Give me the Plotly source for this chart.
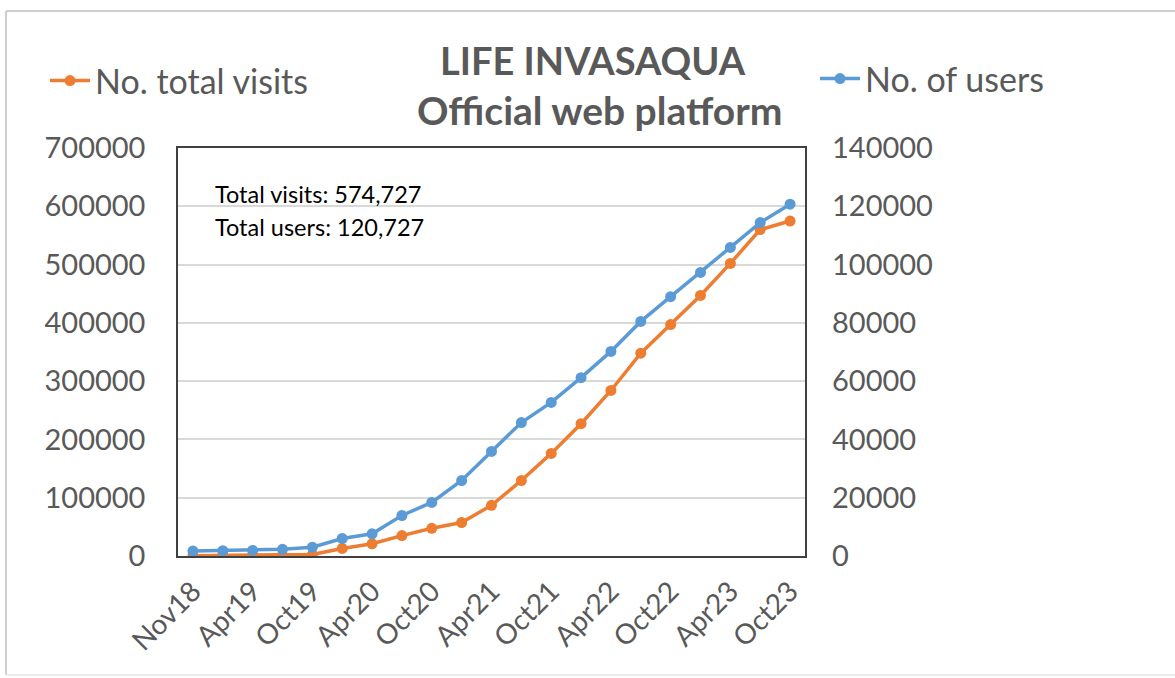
import plotly.graph_objects as go

categories = ["Nov18", "Jan19", "Apr19", "Jul19", "Oct19", "Jan20", "Apr20", "Jul20",
              "Oct20", "Jan21", "Apr21", "Jul21", "Oct21", "Jan22", "Apr22", "Jul22",
              "Oct22", "Jan23", "Apr23", "Jul23", "Oct23"]
tick_labels = ["Nov18", "Apr19", "Oct19", "Apr20", "Oct20", "Apr21",
               "Oct21", "Apr22", "Oct22", "Apr23", "Oct23"]
total_visits = [500, 800, 1000, 1500, 2500, 13000, 21000, 35000, 47500, 57500,
                87000, 129500, 176000, 227000, 284000, 348000, 397000, 447000,
                502000, 560000, 574727]
users = [1700, 1800, 1900, 2300, 3000, 6000, 7600, 13900, 18400, 25900,
         35900, 45800, 52700, 61200, 70200, 80500, 89000, 97300,
         105900, 114400, 120727]

W, H = 1175, 678
L, R, T, B = 178, 805, 148, 556
def px(x):
    return (x - L) / (R - L)
def py(y):
    return (B - y) / (B - T)

FONT = "Lato"
GREY = "#595959"
ORANGE = "#ED7D31"
BLUE = "#5B9BD5"

fig = go.Figure()
fig.add_trace(go.Scatter(
    x=categories, y=total_visits, name="No. total visits", mode="lines+markers",
    line=dict(color=ORANGE, width=3.5), marker=dict(color=ORANGE, size=11),
    legend="legend", yaxis="y"))
fig.add_trace(go.Scatter(
    x=categories, y=users, name="No. of users", mode="lines+markers",
    line=dict(color=BLUE, width=3.5), marker=dict(color=BLUE, size=11),
    legend="legend2", yaxis="y2"))

fig.update_layout(
    width=W, height=H,
    margin=dict(l=L, r=W - R, t=T, b=H - B, pad=0, autoexpand=False),
    paper_bgcolor="white", plot_bgcolor="white",
    font=dict(family=FONT, color=GREY),
    xaxis=dict(type="category", range=[-0.5, len(categories) - 0.5], automargin=False,
               tickvals=tick_labels, ticktext=tick_labels, tickangle=-45,
               tickfont=dict(size=28, color=GREY, family=FONT),
               showline=True, mirror=True, linecolor="#404040", linewidth=1.5,
               showgrid=False, ticks="", ticklabelstandoff=6),
    yaxis=dict(range=[0, 700000], dtick=100000, tickformat="d", automargin=False,
               tickfont=dict(size=29, color=GREY, family=FONT),
               showline=True, mirror=True, linecolor="#404040", linewidth=1.5,
               showgrid=True, gridcolor="#d9d9d9", gridwidth=1.5,
               zeroline=False, ticks="", ticklabelstandoff=25),
    yaxis2=dict(range=[0, 140000], dtick=20000, tickformat="d", overlaying="y",
                side="right", automargin=False,
                tickfont=dict(size=29, color=GREY, family=FONT),
                showgrid=False, zeroline=False, showline=False, ticks="",
                ticklabelstandoff=26),
    legend=dict(xref="container", yref="container", x=45 / W, y=1 - 52 / H,
                xanchor="left", yanchor="top", bgcolor="rgba(0,0,0,0)",
                font=dict(size=34, color=GREY, family=FONT), itemwidth=40,
                tracegroupgap=0),
    legend2=dict(xref="container", yref="container", x=815 / W, y=1 - 50 / H,
                 xanchor="left", yanchor="top", bgcolor="rgba(0,0,0,0)",
                 font=dict(size=34, color=GREY, family=FONT), itemwidth=40,
                 tracegroupgap=0),
    showlegend=True,
)

fig.add_annotation(text="<b>LIFE INVASAQUA</b>", xref="paper", yref="paper",
                   x=px(593), y=py(60), xanchor="center", yanchor="middle",
                   showarrow=False, font=dict(size=38, color=GREY, family=FONT))
fig.add_annotation(text="<b>Official web platform</b>", xref="paper", yref="paper",
                   x=px(600), y=py(110), xanchor="center", yanchor="middle",
                   showarrow=False, font=dict(size=39, color=GREY, family=FONT))
fig.add_annotation(text="Total visits: 574,727", xref="paper", yref="paper",
                   x=px(213), y=py(194), xanchor="left", yanchor="middle",
                   showarrow=False, font=dict(size=23.5, color="black", family=FONT))
fig.add_annotation(text="Total users: 120,727", xref="paper", yref="paper",
                   x=px(213), y=py(227), xanchor="left", yanchor="middle",
                   showarrow=False, font=dict(size=23.5, color="black", family=FONT))

# outer frame lines
fig.add_shape(type="line", xref="paper", yref="paper", x0=px(6), x1=px(W), y0=py(11), y1=py(11),
              line=dict(color="#cfcfcf", width=2))
fig.add_shape(type="line", xref="paper", yref="paper", x0=px(6), x1=px(6), y0=py(11), y1=py(675),
              line=dict(color="#cfcfcf", width=2))
fig.add_shape(type="line", xref="paper", yref="paper", x0=px(6), x1=px(W), y0=py(675), y1=py(675),
              line=dict(color="#ececec", width=2))

fig.write_html("out.html")
